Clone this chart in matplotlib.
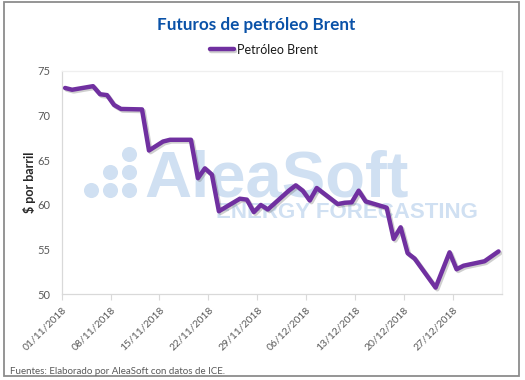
import numpy as np
import pandas as pd
import matplotlib
matplotlib.use("Agg")
import matplotlib.pyplot as plt
import matplotlib.dates as mdates
import matplotlib.patheffects as pe
from matplotlib.patches import Rectangle

plt.rcParams['font.family'] = ['Lato', 'DejaVu Sans']

# Brent futures, trading days
dates = pd.to_datetime([
    "2018-11-01", "2018-11-02", "2018-11-05", "2018-11-06", "2018-11-07",
    "2018-11-08", "2018-11-09", "2018-11-12", "2018-11-13", "2018-11-14",
    "2018-11-15", "2018-11-16", "2018-11-19", "2018-11-20", "2018-11-21",
    "2018-11-22", "2018-11-23", "2018-11-26", "2018-11-27", "2018-11-28",
    "2018-11-29", "2018-11-30", "2018-12-03", "2018-12-04", "2018-12-05",
    "2018-12-06", "2018-12-07", "2018-12-10", "2018-12-11", "2018-12-12",
    "2018-12-13", "2018-12-14", "2018-12-17", "2018-12-18", "2018-12-19",
    "2018-12-20", "2018-12-21", "2018-12-24", "2018-12-26", "2018-12-27",
    "2018-12-28", "2018-12-31", "2019-01-02",
])
brent = [
    73.1, 72.9, 73.3, 72.4, 72.3,
    71.2, 70.75, 70.7, 66.1, 66.6,
    67.1, 67.3, 67.3, 63.0, 64.1,
    63.4, 59.3, 60.7, 60.6, 59.2,
    60.0, 59.5, 61.6, 62.2, 61.6,
    60.5, 61.9, 60.1, 60.25, 60.3,
    61.6, 60.4, 59.7, 56.2, 57.5,
    54.6, 54.0, 50.75, 54.7, 52.8,
    53.2, 53.7, 54.8,
]
tick_dates = pd.date_range("2018-11-01", "2018-12-27", freq="7D")
tick_labels = [d.strftime("%d/%m/%Y") for d in tick_dates]
yticks = [50, 55, 60, 65, 70, 75]

W, H = 525, 380
fig = plt.figure(figsize=(W / 100, H / 100), dpi=100)
ax = fig.add_axes([61.6 / W, 1 - 294.3 / H, (502 - 61.6) / W, (294.3 - 71) / H])
ax.patch.set_facecolor("none")

x = mdates.date2num(dates)
half = 0.5
line, = ax.plot(x, brent, color="#7030A0", lw=3.2, solid_capstyle="round",
                solid_joinstyle="round", zorder=3, label="Petróleo Brent")
line.set_path_effects([pe.SimpleLineShadow(offset=(1.2, -1.2), shadow_color="#777777", alpha=0.35),
                       pe.Normal()])

ax.set_xlim(x[0] - half, x[-1] + half)
ax.set_ylim(50, 75)
ax.set_yticks(yticks)
ax.set_xticks(mdates.date2num(tick_dates) - half)
ax.set_xticklabels(tick_labels, rotation=45, ha="right", rotation_mode="anchor")

ax.tick_params(axis="x", length=4, color="#D9D9D9", labelsize=7.5, labelcolor="#595959", pad=4)
ax.tick_params(axis="y", length=0, labelsize=8, labelcolor="#595959", pad=8)
for s in ["top", "right"]:
    ax.spines[s].set_color("#EFEFEF")
for s in ["left", "bottom"]:
    ax.spines[s].set_color("#D9D9D9")
for s in ax.spines.values():
    s.set_linewidth(0.9)

# watermark
wm = "#D0E0F2"
dot_x = [129, 110, 129, 90.7, 110, 129]
dot_y = [154, 172, 172, 190, 190, 190]
ax.scatter([v / W for v in dot_x], [1 - v / H for v in dot_y], s=118, color=wm,
           transform=fig.transFigure, clip_on=False, zorder=1, linewidths=0)
ax.text(144 / W, 1 - 197 / H, "AleaSoft", transform=fig.transFigure, color=wm,
        fontsize=47, fontweight="bold", family="Liberation Sans", zorder=1, va="baseline")
ax.text(216 / W, 1 - 218 / H, "ENERGY FORECASTING", transform=fig.transFigure, color=wm,
        fontsize=16, fontweight="bold", family="Liberation Sans", zorder=1, va="baseline")

fig.text(256 / W, 1 - 25 / H, "Futuros de petróleo Brent", ha="center", va="center",
         fontsize=12.3, fontweight="bold", color="#0A52A8")
ax.legend(loc="center", bbox_to_anchor=(264 / W, 1 - 49.5 / H), bbox_transform=fig.transFigure,
          frameon=False, fontsize=9, handlelength=1.9, handletextpad=0.3, labelcolor="#1A1A1A")
fig.text(29 / W, 1 - 182 / H, "$ por barril", rotation=90, ha="center", va="center",
         fontsize=9, fontweight="bold", color="#262626")
fig.text(10 / W, 1 - 371 / H, "Fuentes: Elaborado por AleaSoft con datos de ICE.",
         ha="left", va="center", fontsize=7, color="#595959")

fig.add_artist(Rectangle((4 / W, 1 - 376 / H), (519 - 4) / W, (376 - 2) / H,
                         transform=fig.transFigure, fill=False, edgecolor="#8C8C8C", lw=1.3))

fig.savefig("out.png", dpi=100)
